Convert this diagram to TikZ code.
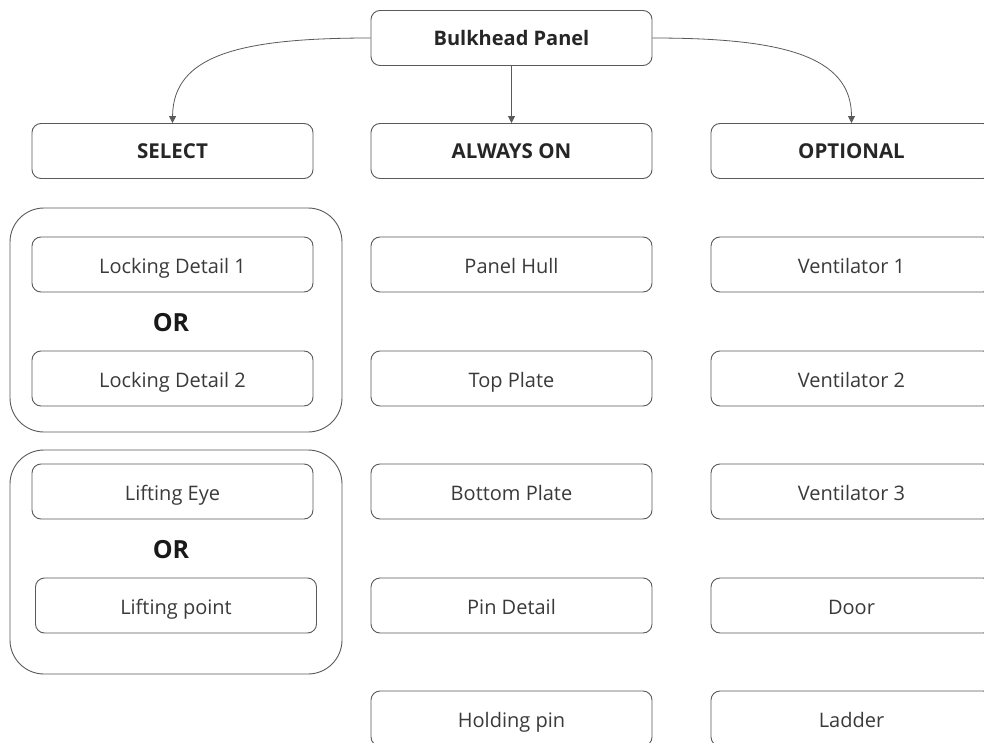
\documentclass[tikz,border=0pt]{standalone}
\usepackage{fontspec}
\setmainfont{Open Sans}
\usetikzlibrary{arrows.meta}
\definecolor{linec}{HTML}{5A5A5A}
\definecolor{textc}{HTML}{3A3A3A}
\begin{document}
\begin{tikzpicture}[x=1pt,y=-1pt,
  box/.style={draw=linec, line width=0.9pt, rounded corners=9pt, minimum width=281pt, minimum height=55pt, inner sep=0pt, text height=17pt, text depth=0pt, text=textc, font=\fontsize{20}{24}\selectfont},
  head/.style={box, text height=16pt, text=black!85, font=\fontsize{20.5}{24}\selectfont\bfseries},
  grp/.style={draw=linec, line width=0.9pt, rounded corners=34pt, minimum width=332pt, minimum height=224pt, inner sep=0pt},
  ortext/.style={text=black!90, font=\fontsize{25}{28}\selectfont\bfseries, inner sep=0pt},
  conn/.style={draw=linec, line width=0.8pt, -{Triangle[length=7pt,width=7pt]}}]
\useasboundingbox (0,0) rectangle (984,743);
\clip (0,0) rectangle (984,743);
\fill[white] (0,0) rectangle (984,743);
% groups
\node[grp] (g1) at (176,320) {};
\node[grp] (g2) at (176,562) {};
% top
\node[head, font=\fontsize{20}{24}\selectfont\bfseries] (top) at (511.5,38) {Bulkhead Panel};
% headers
\node[head] (sel) at (172.5,151) {SELECT};
\node[head] (alw) at (511.5,151) {ALWAYS ON};
\node[head] (opt) at (851.5,151) {OPTIONAL};
% left column
\node[box] (ld1) at (172.5,264.5) {Locking Detail 1};
\node[ortext] (or1) at (171,323) {OR};
\node[box] (ld2) at (172.5,378.5) {Locking Detail 2};
\node[box] (le) at (172.5,491.5) {Lifting Eye};
\node[ortext] (or2) at (171,550) {OR};
\node[box] (lp) at (176,605.5) {Lifting point};
% middle column
\node[box] (ph) at (511.5,264.5) {Panel Hull};
\node[box] (tp) at (511.5,378.5) {Top Plate};
\node[box] (bp) at (511.5,491.5) {Bottom Plate};
\node[box] (pd) at (511.5,605.5) {Pin Detail};
\node[box] (hp) at (511.5,718.5) {Holding pin};
% right column
\node[box] (v1) at (851.5,264.5) {Ventilator 1};
\node[box] (v2) at (851.5,378.5) {Ventilator 2};
\node[box] (v3) at (851.5,491.5) {Ventilator 3};
\node[box] (dr) at (851.5,605.5) {Door};
\node[box] (ld) at (851.5,718.5) {Ladder};
% connectors
\draw[conn] (top.west) .. controls (240,38) and (173,55) .. (sel.north);
\draw[conn] (top.south) -- (alw.north);
\draw[conn] (top.east) .. controls (780,38) and (851.5,55) .. (opt.north);
\end{tikzpicture}
\end{document}
